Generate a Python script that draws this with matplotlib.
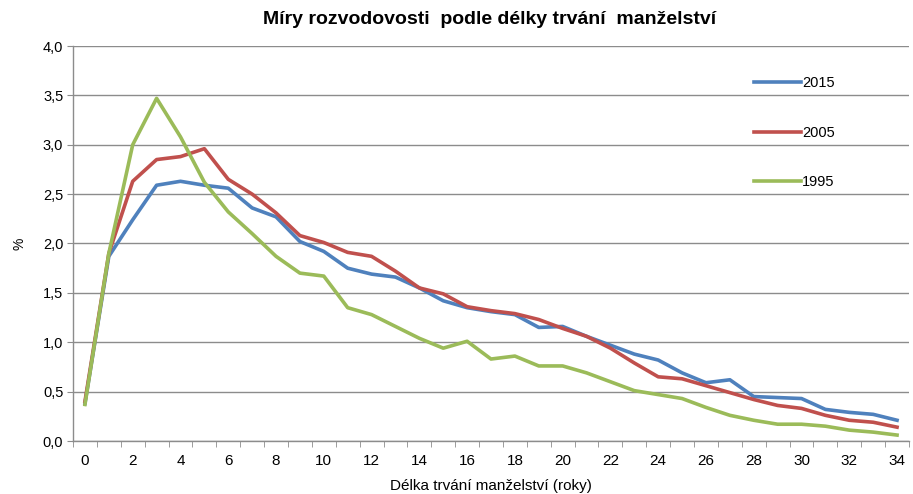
import matplotlib
matplotlib.use("Agg")
import matplotlib.pyplot as plt
from matplotlib.ticker import FixedLocator, FuncFormatter

years = list(range(0, 35))
s2015 = [0.38, 1.87, 2.24, 2.59, 2.63, 2.59, 2.56, 2.36, 2.27, 2.02, 1.92, 1.75, 1.69, 1.66,
         1.55, 1.42, 1.35, 1.31, 1.28, 1.15, 1.16, 1.06, 0.97, 0.88, 0.82, 0.69, 0.59, 0.62,
         0.45, 0.44, 0.43, 0.32, 0.29, 0.27, 0.21]
s2005 = [0.40, 1.90, 2.63, 2.85, 2.88, 2.96, 2.65, 2.50, 2.31, 2.08, 2.01, 1.91, 1.87, 1.72,
         1.55, 1.49, 1.36, 1.32, 1.29, 1.23, 1.14, 1.06, 0.94, 0.79, 0.65, 0.63, 0.56, 0.49,
         0.42, 0.36, 0.33, 0.26, 0.21, 0.19, 0.14]
s1995 = [0.37, 1.90, 3.00, 3.47, 3.08, 2.62, 2.32, 2.10, 1.87, 1.70, 1.67, 1.35, 1.28, 1.16,
         1.04, 0.94, 1.01, 0.83, 0.86, 0.76, 0.76, 0.69, 0.60, 0.51, 0.47, 0.43, 0.34, 0.26,
         0.21, 0.17, 0.17, 0.15, 0.11, 0.09, 0.06]
series_labels = ["2015", "2005", "1995"]
colors = ["#4F81BD", "#C0504D", "#9BBB59"]
title = "Míry rozvodovosti  podle délky trvání  manželství"
xlabel = "Délka trvání manželství (roky)"
ylabel = "%"

plt.rcParams["font.family"] = ["Liberation Sans", "DejaVu Sans"]

fig = plt.figure(figsize=(9.13, 4.94), dpi=100)
ax = fig.add_axes([73 / 913, 1 - 441 / 494, (909 - 73) / 913, (441 - 46) / 494])

for vals, lab, c in zip([s2015, s2005, s1995], series_labels, colors):
    ax.plot(years, vals, color=c, lw=2.6, label=lab, solid_joinstyle="round")

ax.set_xlim(-0.5, 34.5)
ax.set_ylim(0, 4.0)
ax.set_yticks([i * 0.5 for i in range(9)])
ax.yaxis.set_major_formatter(FuncFormatter(lambda v, p: f"{v:.1f}".replace(".", ",")))
ax.yaxis.grid(True, color="#8c8c8c", lw=1.0)
ax.set_axisbelow(True)

ax.set_xticks(years[::2])
ax.set_xticklabels([str(y) for y in years[::2]], fontsize=11)
ax.xaxis.set_minor_locator(FixedLocator([y + 0.5 for y in range(-1, 35)]))
ax.tick_params(axis="x", which="major", length=0, pad=9)
ax.tick_params(axis="x", which="minor", length=4, color="#8c8c8c", direction="out")
ax.tick_params(axis="y", length=4, color="#8c8c8c", labelsize=10.5, pad=3)

for side in ["top", "right"]:
    ax.spines[side].set_visible(False)
for side in ["left", "bottom"]:
    ax.spines[side].set_color("#8c8c8c")
    ax.spines[side].set_linewidth(1.0)

ax.set_xlabel(xlabel, fontsize=11, labelpad=8)
ax.set_ylabel(ylabel, fontsize=10, labelpad=12)
fig.text(490 / 913, 1 - 20 / 494, title, ha="center", va="center",
         fontsize=14, fontweight="bold")

leg = ax.legend(loc="upper left", bbox_to_anchor=(754 / 913, 1 - 76 / 494),
                bbox_transform=fig.transFigure, frameon=False, fontsize=10.5,
                handlelength=3.2, handletextpad=0.1, labelspacing=2.45, borderpad=0,
                borderaxespad=0)

fig.savefig("out.png", dpi=100)
